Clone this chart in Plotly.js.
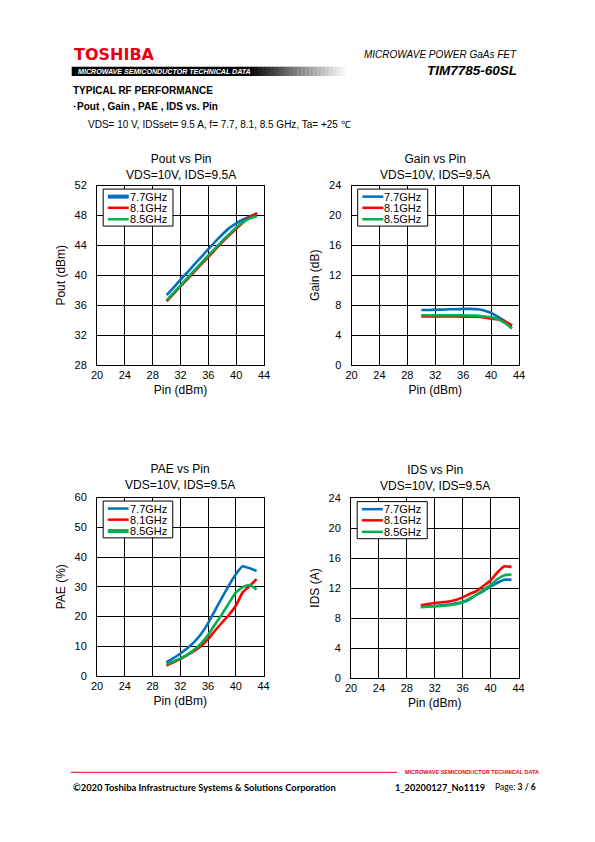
<!DOCTYPE html>
<html><head><meta charset="utf-8">
<script src="https://cdn.plot.ly/plotly-3.0.1.min.js"></script>
<style>html,body{margin:0;padding:0;background:#fff}#chart{width:595px;height:842px}</style>
</head><body><div id="chart"></div>
<script>
// ---- data ----
const pin = [30,31,32,33,34,35,36,37,38,39,40,41,42,43];
const seriesNames = ['7.7GHz','8.1GHz','8.5GHz'];
const seriesColors = ['#0070C0','#FF0000','#00B050'];
const xTickVals = [20,24,28,32,36,40,44];

const pout77 = [37.35,38.35,39.4,40.4,41.45,42.45,43.5,44.5,45.45,46.3,46.95,47.45,47.85,48.25];
const pout81 = [36.5,37.5,38.5,39.5,40.5,41.5,42.45,43.45,44.45,45.35,46.2,47.1,47.8,48.3];
const pout85 = [36.65,37.65,38.65,39.65,40.65,41.65,42.65,43.6,44.6,45.5,46.4,47.1,47.6,47.9];

const gain77 = [7.35,7.35,7.4,7.4,7.45,7.45,7.5,7.5,7.45,7.3,6.95,6.45,5.85,5.25];
const gain81 = [6.5,6.5,6.5,6.5,6.5,6.5,6.45,6.45,6.45,6.35,6.2,6.1,5.8,5.3];
const gain85 = [6.65,6.65,6.65,6.65,6.65,6.65,6.65,6.6,6.6,6.5,6.4,6.1,5.6,4.9];

const pae77 = [4.6,6.0,7.5,9.3,11.4,14.1,17.7,22.0,26.3,30.4,34.2,36.9,36.2,35.3];
const pae81 = [3.5,4.6,5.7,7.0,8.4,10.1,12.4,15.2,17.9,20.5,23.6,28.1,30.3,32.5];
const pae85 = [3.9,4.9,5.9,7.2,8.8,11.0,13.8,17.3,20.7,24.4,28.0,29.9,30.6,29.1];

const ids77 = [9.5,9.55,9.6,9.7,9.8,9.95,10.1,10.5,11.1,11.6,12.2,12.7,13.1,13.1];
const ids81 = [9.7,9.85,10.0,10.1,10.2,10.4,10.75,11.2,11.6,12.3,13.0,14.1,14.9,14.8];
const ids85 = [9.45,9.5,9.55,9.6,9.7,9.85,10.1,10.6,11.1,11.8,12.4,13.2,13.7,13.8];

const chartTitles = ['Pout vs Pin','Gain vs Pin','PAE vs Pin','IDS vs Pin'];
const chartSub = 'VDS=10V, IDS=9.5A';
const yTitles = ['Pout (dBm)','Gain (dB)','PAE (%)','IDS (A)'];
const xTitle = 'Pin (dBm)';
const yRanges = [[28,52],[0,24],[0,60],[0,24]];
const yDticks = [4,4,10,4];

// ---- layout helpers ----
const W=595,H=842;
const PX=x=>x/W, PY=y=>1-y/H;
const FONT='"Liberation Sans", Arial, sans-serif';

const panels = [
  {x0:97,  x1:264,   y0:185.5, y1:365, ty:166.7, data:[pout77,pout81,pout85], legW:[4,2.5,2.5]},
  {x0:351.5,x1:519,  y0:185.5, y1:365, ty:166.7, data:[gain77,gain81,gain85], legW:[2.5,2.5,2.5]},
  {x0:97,  x1:263.5, y0:497.5, y1:676, ty:476.7, data:[pae77,pae81,pae85],    legW:[2.5,2.5,4]},
  {x0:351, x1:518.5, y0:498,   y1:678, ty:477.5, data:[ids77,ids81,ids85],    legW:[2.5,2.5,2.5]}
];

const traces=[];
const layout={
  width:W,height:H,margin:{l:0,r:0,t:0,b:0},
  paper_bgcolor:'#fff',plot_bgcolor:'#fff',showlegend:false,
  font:{family:FONT,color:'#000'},
  shapes:[],annotations:[]
};

panels.forEach((p,i)=>{
  const s = i===0?'':String(i+1);
  const xa='x'+s, ya='y'+s;
  p.data.forEach((d,k)=>{
    traces.push({x:pin,y:d,xaxis:xa,yaxis:ya,mode:'lines',name:seriesNames[k],
      line:{color:seriesColors[k],width:2.6,shape:'spline',smoothing:0.5},hoverinfo:'skip'});
  });
  layout['xaxis'+s]={domain:[PX(p.x0),PX(p.x1)],anchor:ya,range:[20,44],tickvals:xTickVals,
    showgrid:true,gridcolor:'#000',gridwidth:1,showline:true,linecolor:'#000',linewidth:1,mirror:true,
    zeroline:false,ticks:'',tickfont:{family:FONT,size:11,color:'#000'},automargin:false,fixedrange:true,
    title:{text:xTitle,font:{family:FONT,size:12,color:'#000'},standoff:5}};
  layout['yaxis'+s]={domain:[PY(p.y1),PY(p.y0)],anchor:xa,range:yRanges[i],tick0:yRanges[i][0],dtick:yDticks[i],
    showgrid:true,gridcolor:'#000',gridwidth:1,showline:true,linecolor:'#000',linewidth:1,mirror:true,
    zeroline:false,ticks:'',ticklabelstandoff:7,tickfont:{family:FONT,size:11,color:'#000'},automargin:false,fixedrange:true,
    title:{text:yTitles[i],font:{family:FONT,size:12,color:'#000'},standoff:6}};
  // chart title
  layout.annotations.push({xref:'paper',yref:'paper',x:PX((p.x0+p.x1)/2),y:PY(p.ty+0.5),xanchor:'center',yanchor:'middle',
    text:chartTitles[i]+'<br>'+chartSub,showarrow:false,font:{family:FONT,size:12,color:'#000'}});
  // legend box
  const xr=xa+' domain', yr=ya+' domain';
  layout.shapes.push({type:'rect',xref:xr,yref:yr,x0:0.037,x1:0.455,y0:0.774,y1:0.98,
    line:{color:'#000',width:1},fillcolor:'#fff',layer:'above'});
  const rows=[0.938,0.876,0.812];
  seriesNames.forEach((nm,k)=>{
    layout.shapes.push({type:'line',xref:xr,yref:yr,x0:0.065,x1:0.19,y0:rows[k],y1:rows[k],
      line:{color:seriesColors[k],width:p.legW[k]},layer:'above'});
    layout.annotations.push({xref:xr,yref:yr,x:0.19,y:rows[k],xanchor:'left',yanchor:'middle',
      text:nm,showarrow:false,font:{family:FONT,size:11,color:'#000'},xshift:-1});
  });
});

// ---- page header ----
const A=(x,y,text,size,opts={})=>layout.annotations.push(Object.assign({xref:'paper',yref:'paper',x:PX(x),y:PY(y),
  xanchor:'left',yanchor:'middle',text:text,showarrow:false,font:{family:FONT,size:size,color:'#000'}},opts));

A(71.5,54.5,'<b>TOSHIBA</b>',16,{font:{family:'"DejaVu Sans", sans-serif',size:16,color:'#E60012'}});
// black bar with fade
layout.shapes.push({type:'rect',xref:'paper',yref:'paper',x0:PX(71.7),x1:PX(250),y0:PY(76),y1:PY(66.7),line:{width:0},fillcolor:'#000'});
const N=24, gx0=250, gx1=345;
for(let j=0;j<N;j++){
  const v=Math.round(255*(j+1)/(N+1));
  layout.shapes.push({type:'rect',xref:'paper',yref:'paper',x0:PX(gx0+(gx1-gx0)*j/N),x1:PX(gx0+(gx1-gx0)*(j+1)/N+0.3),
    y0:PY(76),y1:PY(66.7),line:{width:0},fillcolor:`rgb(${v},${v},${v})`});
}
A(75.5,71.5,'<b><i>MICROWAVE SEMICONDUCTOR TECHNICAL DATA</i></b>',7.1,{font:{family:FONT,size:7.1,color:'#fff'}});
A(518.5,55,'<i>MICROWAVE POWER GaAs FET</i>',10,{xanchor:'right'});
A(518.5,71,'<b><i>TIM7785-60SL</i></b>',13.5,{xanchor:'right'});
A(71,90,'<b>TYPICAL RF PERFORMANCE</b>',10);
A(70,106.5,'<b>･Pout , Gain , PAE , IDS vs. Pin</b>',10);
A(86,124,'VDS= 10 V, IDSset= 9.5 A, f= 7.7, 8.1, 8.5 GHz, Ta= +25 ℃',10);

// ---- footer ----
layout.shapes.push({type:'line',xref:'paper',yref:'paper',x0:PX(70.7),x1:PX(397),y0:PY(772.3),y1:PY(772.3),line:{color:'#E60012',width:1}});
A(403,772.3,'<b>MICROWAVE SEMICONDUCTOR TECHNICAL DATA</b>',5.5,{font:{family:'"Liberation Sans Narrow", "Liberation Sans", sans-serif',size:5.5,color:'#E60012'}});
const FF='Lato, "Open Sans", sans-serif';
A(71,787,'<b>©2020 Toshiba Infrastructure Systems &amp; Solutions Corporation</b>',9.4,{font:{family:FF,size:9.4,color:'#000'}});
A(393,787,'<b>1_20200127_No1119</b>',9.2,{font:{family:FF,size:9.2,color:'#000'}});
A(493,787,'Page: <b>3 / 6</b>',8.6,{font:{family:FF,size:8.6,color:'#000'}});

Plotly.newPlot('chart',traces,layout,{staticPlot:true,displayModeBar:false});
</script></body></html>
